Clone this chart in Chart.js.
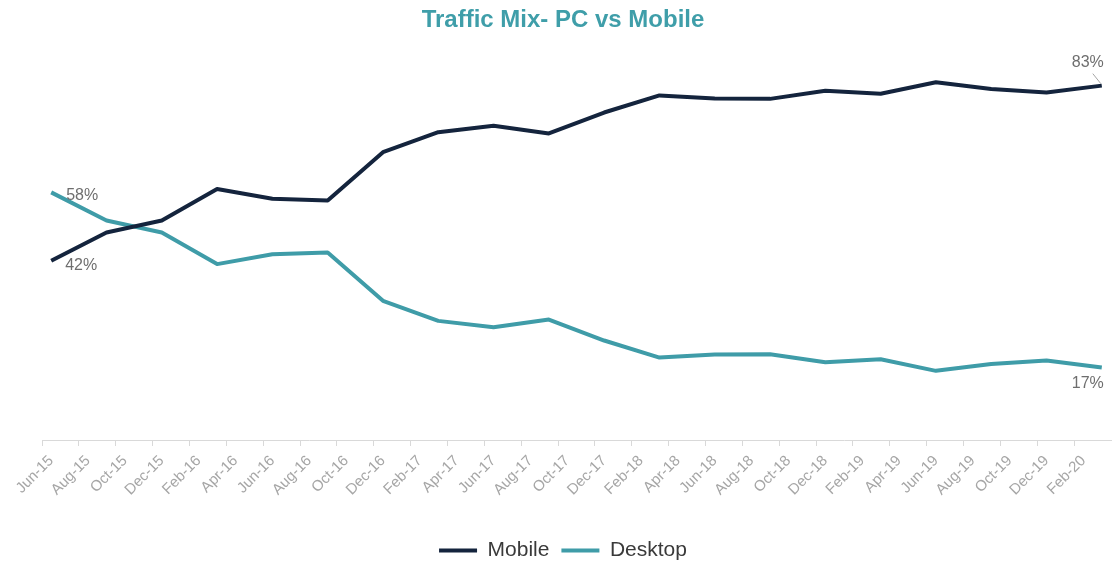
<!DOCTYPE html>
<html>
<head>
<meta charset="utf-8">
<title>Traffic Mix- PC vs Mobile</title>
<script src="https://cdn.jsdelivr.net/npm/chart.js@4.4.1/dist/chart.umd.min.js"></script>
<style>
  html, body { margin: 0; padding: 0; background: #ffffff; }
  #wrap { width: 1112px; height: 567px; }
</style>
</head>
<body>
<div id="wrap"><canvas id="traffic-mix"></canvas></div>
<script>
const FONT = '"Liberation Sans", Arial, sans-serif';

// monthly category axis, Jun-15 .. Mar-20
const monthNames = ['Jan', 'Feb', 'Mar', 'Apr', 'May', 'Jun', 'Jul', 'Aug', 'Sep', 'Oct', 'Nov', 'Dec'];
const months = [];
for (let m = 5; m <= 62; m++) {
    months.push(monthNames[m % 12] + '-' + (15 + Math.floor(m / 12)));
}

// labels printed under the axis (every second month)
const tickLabels = ['Jun-15', 'Aug-15', 'Oct-15', 'Dec-15', 'Feb-16', 'Apr-16', 'Jun-16', 'Aug-16',
    'Oct-16', 'Dec-16', 'Feb-17', 'Apr-17', 'Jun-17', 'Aug-17', 'Oct-17', 'Dec-17', 'Feb-18',
    'Apr-18', 'Jun-18', 'Aug-18', 'Oct-18', 'Dec-18', 'Feb-19', 'Apr-19', 'Jun-19', 'Aug-19',
    'Oct-19', 'Dec-19', 'Feb-20'];

// quarterly readings
const quarters = ['Jun-15', 'Sep-15', 'Dec-15', 'Mar-16', 'Jun-16', 'Sep-16', 'Dec-16', 'Mar-17',
    'Jun-17', 'Sep-17', 'Dec-17', 'Mar-18', 'Jun-18', 'Sep-18', 'Dec-18', 'Mar-19', 'Jun-19',
    'Sep-19', 'Dec-19', 'Mar-20'];
const mobile = [42, 48.6, 51.4, 58.8, 56.5, 56.1, 67.4, 72.1, 73.6, 71.8, 76.7, 80.7, 80.0, 79.9,
    81.8, 81.1, 83.8, 82.2, 81.4, 83];
const desktop = [58, 51.4, 48.6, 41.2, 43.5, 43.9, 32.6, 27.9, 26.4, 28.2, 23.3, 19.3, 20.0, 20.1,
    18.2, 18.9, 16.2, 17.8, 18.6, 17];

function toPoints(values) {
    return quarters.map((q, i) => ({ x: q, y: values[i] }));
}

// first / last value tags, offsets per series
const tagOffsets = {
    Mobile:  { first: [14, 5, 'left'],  last: [-14, -23, 'center'], leader: true },
    Desktop: { first: [15, 3, 'left'],  last: [-14, 16, 'center'],  leader: false }
};

const endLabels = {
    id: 'endLabels',
    afterDatasetsDraw(chart) {
        const ctx = chart.ctx;
        ctx.save();
        ctx.font = '16px ' + FONT;
        ctx.fillStyle = '#6e6e6e';
        ctx.textBaseline = 'middle';
        chart.data.datasets.forEach((ds, di) => {
            const pts = chart.getDatasetMeta(di).data;
            const off = tagOffsets[ds.label];
            const ends = [
                [pts[0], ds.data[0].y, off.first],
                [pts[pts.length - 1], ds.data[ds.data.length - 1].y, off.last]
            ];
            ends.forEach(([p, v, o], k) => {
                ctx.textAlign = o[2];
                ctx.fillText(Math.round(v) + '%', p.x + o[0], p.y + o[1]);
                if (k === 1 && off.leader) {
                    ctx.strokeStyle = '#a6a6a6';
                    ctx.lineWidth = 1;
                    ctx.beginPath();
                    ctx.moveTo(p.x - 9, p.y - 12);
                    ctx.lineTo(p.x - 1, p.y - 2);
                    ctx.stroke();
                }
            });
        });
        ctx.restore();
    }
};

const data = {
    labels: months,
    datasets: [{
        label: 'Mobile',
        data: toPoints(mobile),
        borderColor: '#14243d',
        backgroundColor: '#14243d',
        borderWidth: 4,
        pointRadius: 0,
        tension: 0,
        borderJoinStyle: 'round'
    }, {
        label: 'Desktop',
        data: toPoints(desktop),
        borderColor: '#3f9ca8',
        backgroundColor: '#3f9ca8',
        borderWidth: 4,
        pointRadius: 0,
        tension: 0,
        borderJoinStyle: 'round'
    }]
};

const config = {
    type: 'line',
    data: data,
    plugins: [endLabels],
    options: {
        responsive: true,
        maintainAspectRatio: false,
        animation: false,
        layout: {
            padding: { left: 14, right: 0, top: 0, bottom: -4 }
        },
        scales: {
            x: {
                type: 'category',
                offset: true,
                border: { color: '#d9d9d9', width: 1 },
                grid: {
                    offset: true,
                    drawOnChartArea: false,
                    drawTicks: true,
                    tickLength: 6,
                    tickColor: function(c) {
                        return c.index % 2 === 0 ? '#d9d9d9' : 'rgba(0,0,0,0)';
                    }
                },
                ticks: {
                    autoSkip: false,
                    minRotation: 45,
                    maxRotation: 45,
                    padding: 6,
                    color: '#a6a6a6',
                    font: { family: FONT, size: 15 },
                    callback: function(value, index) {
                        const m = months[index];
                        return tickLabels.includes(m) ? m : '';
                    }
                },
                afterFit: function(scale) {
                    scale.height = 88;
                    scale.paddingLeft = 42;
                    scale.paddingRight = 1;
                }
            },
            y: {
                display: false,
                min: 0,
                max: 93.5
            }
        },
        plugins: {
            title: {
                display: true,
                text: 'Traffic Mix- PC vs Mobile',
                color: '#3f9ea9',
                font: { family: FONT, size: 24, weight: 'bold' },
                padding: { top: 6, bottom: 6 }
            },
            legend: {
                position: 'bottom',
                labels: {
                    usePointStyle: true,
                    pointStyle: 'line',
                    pointStyleWidth: 38,
                    color: '#3a3a3a',
                    padding: 12,
                    font: { family: FONT, size: 21 }
                }
            },
            tooltip: { enabled: false }
        }
    }
};

new Chart(document.getElementById('traffic-mix'), config);
</script>
</body>
</html>
